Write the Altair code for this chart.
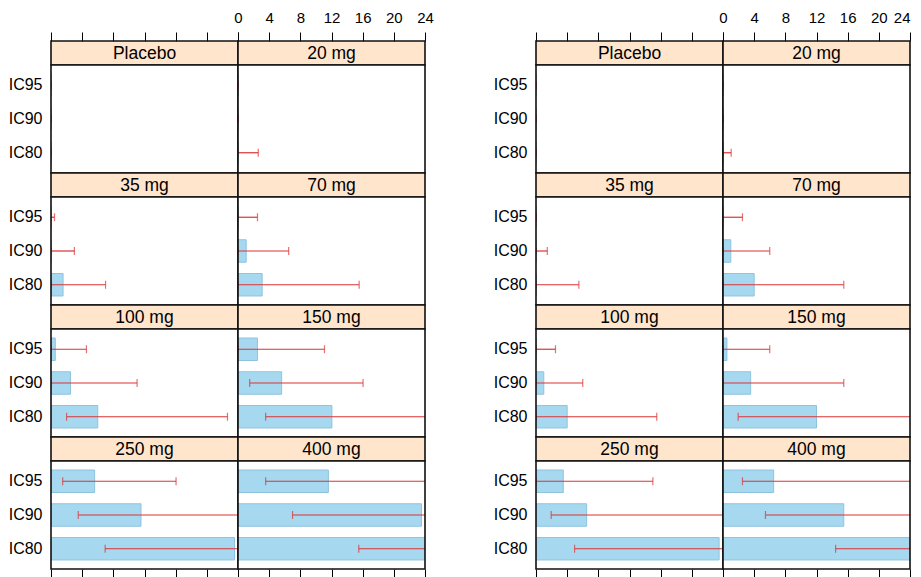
import altair as alt
import pandas as pd

doses = ["Placebo", "20 mg", "35 mg", "70 mg", "100 mg", "150 mg", "250 mg", "400 mg"]
levels = ["IC95", "IC90", "IC80"]
x_ticks = [0, 4, 8, 12, 16, 20, 24]

# values per dose, in order IC95, IC90, IC80 (left set)
left_bar = [[0, 0, 0], [0, 0, 0], [0, 0, 1.55], [0, 1.05, 3.1],
            [0.55, 2.5, 6.0], [2.5, 5.6, 12.05], [5.6, 11.55, 23.55], [11.6, 23.55, 26]]
left_lo = [[0, 0, 0], [0, 0, 0], [0, 0, 0], [0, 0, 0],
           [0, 0, 2.0], [0, 1.5, 3.55], [1.5, 3.5, 6.95], [3.55, 7.0, 15.5]]
left_hi = [[0, 0, 0], [0, 0, 2.6], [0.45, 3.0, 7.0], [2.5, 6.5, 15.55],
           [4.55, 11.05, 22.65], [11.1, 16.05, 26], [16.05, 26, 26], [26, 26, 26]]

# right set
right_bar = [[0, 0, 0], [0, 0, 0], [0, 0, 0], [0, 1.0, 4.0],
             [0, 1.0, 4.0], [0.5, 3.55, 12.0], [3.5, 6.5, 23.5], [6.5, 15.5, 26]]
right_lo = [[0, 0, 0], [0, 0, 0], [0, 0, 0], [0, 0, 0],
            [0, 0, 0], [0, 0, 1.95], [0, 1.95, 4.95], [2.5, 5.45, 14.45]]
right_hi = [[0, 0, 0], [0, 0, 1.05], [0, 1.45, 5.5], [2.5, 6.0, 15.5],
            [2.5, 6.0, 15.5], [6.0, 15.5, 26], [15.0, 26, 26], [26, 26, 26]]

FONT = "Liberation Sans"
W = 187
GAP = 111
STRIP_H = 24
PLOT_H = 108
BAR_FILL = "#A6D8F0"
BAR_STROKE = "#8EC3E0"
ERR = "#DD3333"
STRIP_FILL = "#FFE5CC"
BORDER_W = 1.6

xscale = alt.Scale(domain=[0, 24], nice=False, zero=False)
yscale = alt.Scale(domain=levels, paddingInner=1 / 3, paddingOuter=0.2667)
frame_df = pd.DataFrame({"k": [0]})
NOVIEW = alt.ViewBackground(fill=None, stroke=None, strokeWidth=0)


def frame(h):
    # outline of a cell (decoration only)
    return alt.Chart(frame_df).mark_rect(fill=None, stroke="#111111",
                                         strokeWidth=BORDER_W).encode(
        x=alt.value(0), x2=alt.value(W), y=alt.value(0), y2=alt.value(h))


def spacer(h):
    return alt.Chart(frame_df).mark_point(opacity=0).encode(
        x=alt.value(0), y=alt.value(0)).properties(width=GAP, height=h, view=NOVIEW)


def strip(label, row, col, right_set):
    df = pd.DataFrame({"dose": [label], "mid": [12]})
    if row == 0:
        kw = dict(orient="top", values=x_ticks, domain=False, ticks=True, tickSize=9,
                  tickColor="black", tickWidth=1, grid=False, title=None,
                  labels=(col == 1), labelFontSize=15, labelFont=FONT,
                  labelColor="black", labelPadding=7, labelFlush=False)
        if right_set and col == 1:
            kw["labelAlign"] = alt.ExprRef(expr="datum.value == 24 ? 'right' : 'center'")
        axis = alt.Axis(**kw)
    else:
        axis = None
    txt = alt.Chart(df).mark_text(fontSize=17.5, font=FONT, color="black",
                                  baseline="middle", align="center").encode(
        x=alt.X("mid:Q", scale=xscale, axis=axis),
        y=alt.value(STRIP_H / 2 + 0.5),
        text="dose:N",
    )
    return alt.layer(txt, frame(STRIP_H)).properties(
        width=W, height=STRIP_H,
        view=alt.ViewBackground(fill=STRIP_FILL, stroke=None, strokeWidth=0))


def panel(bar, lo, hi, row, col):
    df = pd.DataFrame({"ic": levels, "bar": bar, "lo": lo, "hi": hi})
    if row == 3:
        xaxis = alt.Axis(orient="bottom", values=x_ticks, domain=False, ticks=True,
                         tickSize=9, tickColor="black", tickWidth=1, labels=False,
                         grid=False, title=None)
    else:
        xaxis = None
    if col == 0:
        yaxis = alt.Axis(orient="left", domain=False, ticks=False, labelFontSize=16,
                         labelFont=FONT, labelColor="black", labelPadding=9, title=None)
    else:
        yaxis = None
    y = alt.Y("ic:N", sort=levels, scale=yscale, axis=yaxis)
    base = alt.Chart(df)
    bars = base.mark_bar(clip=True, fill=BAR_FILL, stroke=BAR_STROKE, strokeWidth=1).encode(
        x=alt.X("bar:Q", scale=xscale, axis=xaxis), y=y)
    rule = base.mark_rule(clip=True, color=ERR, strokeWidth=1.2).encode(
        x=alt.X("lo:Q", scale=xscale, axis=xaxis), x2="hi:Q", y=y)
    cap_lo = base.mark_tick(clip=True, color=ERR, size=8, thickness=1.2).encode(
        x=alt.X("lo:Q", scale=xscale, axis=xaxis), y=y)
    cap_hi = base.mark_tick(clip=True, color=ERR, size=8, thickness=1.2).encode(
        x=alt.X("hi:Q", scale=xscale, axis=xaxis), y=y)
    return alt.layer(bars, rule, cap_lo, cap_hi, frame(PLOT_H)).properties(
        width=W, height=PLOT_H,
        view=alt.ViewBackground(fill="white", stroke=None, strokeWidth=0))


sets = [(left_bar, left_lo, left_hi, False), (right_bar, right_lo, right_hi, True)]
cells = []
for r in range(4):
    # strip row
    for s, (b, lo, hi, rs) in enumerate(sets):
        if s == 1:
            cells.append(spacer(STRIP_H))
        for c in range(2):
            cells.append(strip(doses[2 * r + c], r, c, rs))
    # panel row
    for s, (b, lo, hi, rs) in enumerate(sets):
        if s == 1:
            cells.append(spacer(PLOT_H))
        for c in range(2):
            i = 2 * r + c
            cells.append(panel(b[i], lo[i], hi[i], r, c))

chart = alt.concat(*cells, columns=5, spacing=0, bounds="flush").resolve_scale(
    x="independent", y="independent"
).properties(
    padding={"left": 8, "top": 10, "right": 5, "bottom": 0}
).configure(font=FONT, background="white")

chart.save("out.html", embed_options={"renderer": "svg", "actions": False})
